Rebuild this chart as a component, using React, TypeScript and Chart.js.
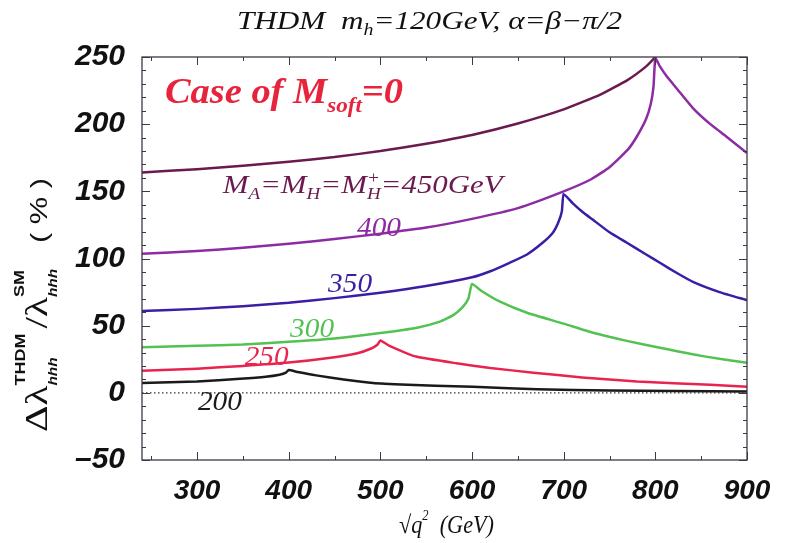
import React, { useEffect, useRef } from "react";
import { Chart, registerables } from "chart.js";

Chart.register(...registerables);

// ---- axes ----
const xRange = [240, 900];
const yRange = [-50, 250];
const xTickLabels = [300, 400, 500, 600, 700, 800, 900];
const yTickLabels = [-50, 0, 50, 100, 150, 200, 250];

// ---- series: sqrt(q^2) [GeV] vs Δλ/λ [%] ----
const mass450X = [240, 300, 350, 400, 450, 500, 550, 600, 650, 700, 740, 770, 790, 800, 810, 820];
const mass450Y = [164, 166.5, 169, 172, 175.5, 180, 185.5, 192, 200.5, 211, 222, 233, 243, 250, 258, 268];

const mass400X = [240, 300, 350, 400, 450, 500, 550, 600, 650, 700, 730, 750, 770, 780, 790, 795, 798, 800, 805, 812, 824, 841, 860, 878, 900];
const mass400Y = [103.5, 105.5, 108, 111, 114.5, 118.5, 123, 129.5, 137.5, 150, 159, 168, 181, 191, 204, 215, 228, 249, 243, 236, 226, 212, 200, 190.5, 178.5];

const mass350X = [240, 300, 350, 400, 450, 500, 550, 600, 620, 641, 660, 677, 688, 694, 698, 700, 710, 720, 732, 750, 769, 790, 805, 824, 841, 870, 900];
const mass350Y = [61, 62.5, 64.5, 67, 70.5, 74.5, 79.5, 86, 90.5, 96.8, 103, 111.7, 119, 126.6, 135, 148, 141, 135, 128.8, 119.5, 111.7, 103, 96.8, 89, 82.6, 75, 69];

const mass300X = [240, 300, 350, 400, 450, 500, 540, 565, 580, 590, 596, 600, 610, 630, 660, 700, 732, 770, 805, 850, 900];
const mass300Y = [34, 35, 36, 38, 40.5, 44.5, 48.5, 53, 58, 64, 70, 81, 76, 68, 59.6, 51.5, 44.7, 38.5, 33.5, 27.5, 22.3];

const mass250X = [240, 300, 350, 400, 450, 475, 490, 497, 500, 510, 539, 583, 620, 667, 720, 780, 860, 900];
const mass250Y = [16.5, 18, 20, 22.5, 26.5, 29.5, 33, 36, 39, 35, 27, 22, 18.5, 15, 11.5, 8.5, 6, 4.5];

const mass200X = [240, 300, 347, 375, 390, 397, 400, 410, 430, 460, 492, 530, 560, 601, 640, 671, 750, 820, 900];
const mass200Y = [7.4, 8.5, 10.5, 12, 13.5, 15, 17, 15.5, 13, 10, 7.4, 6, 5.2, 4.5, 3.4, 2.6, 1.8, 1.3, 1];

const zeroX = [240, 900];
const zeroY = [0, 0];

// ---- label anchors (data coordinates, left/baseline) ----
const labelCase = { x: 265, y: 216 };
const labelMass = { x: 328, y: 149 };
const label400 = { x: 474.5, y: 117 };
const label350 = { x: 443, y: 75 };
const label300 = { x: 401.5, y: 41.7 };
const label250 = { x: 352, y: 20.8 };
const label200 = { x: 301, y: -12.7 };

const C450 = "#6a1a4c";
const C400 = "#8c2ba3";
const C350 = "#3b1ea5";
const C300 = "#52c252";
const C250 = "#e8244e";
const C200 = "#1a1a1a";
const CCASE = "#e8233c";

type Seg = { t: string; font: string; dy?: number; stack?: boolean; gap?: number };

const SERIF = "'Liberation Serif', 'Times New Roman', serif";
const SANS = "'Liberation Sans', Arial, sans-serif";

function layoutRich(ctx: CanvasRenderingContext2D, segs: Seg[]) {
  let cur = 0;
  let prevStart = 0;
  const out: { s: Seg; start: number }[] = [];
  for (const s of segs) {
    ctx.font = s.font;
    const w = ctx.measureText(s.t).width;
    const start = s.stack ? prevStart : cur + (s.gap || 0);
    const end = start + w;
    cur = s.stack ? Math.max(cur, end) : end;
    prevStart = start;
    out.push({ s, start });
  }
  return { width: cur, out };
}

function drawRich(
  ctx: CanvasRenderingContext2D,
  segs: Seg[],
  x: number,
  y: number,
  color: string,
  targetW?: number
) {
  const { width, out } = layoutRich(ctx, segs);
  const sx = targetW ? targetW / width : 1;
  ctx.save();
  ctx.translate(x, y);
  ctx.scale(sx, 1);
  ctx.fillStyle = color;
  ctx.textAlign = "left";
  ctx.textBaseline = "alphabetic";
  for (const o of out) {
    ctx.font = o.s.font;
    ctx.fillText(o.s.t, o.start, o.s.dy || 0);
  }
  ctx.restore();
}

const framePlugin = {
  id: "frameAndText",
  afterDatasetsDraw(chart: any) {
    const { ctx, chartArea: a, scales } = chart;
    const xs = scales.x;
    const ys = scales.y;
    ctx.save();
    ctx.strokeStyle = "#3f3646";
    ctx.lineWidth = 1.3;
    ctx.strokeRect(a.left, a.top, a.right - a.left, a.bottom - a.top);
    ctx.lineWidth = 1;
    ctx.beginPath();
    for (let v = 250; v <= xRange[1]; v += 50) {
      const px = Math.round(xs.getPixelForValue(v)) + 0.5;
      const len = v % 100 === 0 ? 8 : 4;
      ctx.moveTo(px, a.bottom);
      ctx.lineTo(px, a.bottom - len);
      ctx.moveTo(px, a.top);
      ctx.lineTo(px, a.top + len);
    }
    for (let v = yRange[0]; v <= yRange[1]; v += 10) {
      const py = Math.round(ys.getPixelForValue(v)) + 0.5;
      const len = v % 50 === 0 ? 8 : 4;
      ctx.moveTo(a.left, py);
      ctx.lineTo(a.left + len, py);
      ctx.moveTo(a.right, py);
      ctx.lineTo(a.right - len, py);
    }
    ctx.stroke();
    ctx.restore();
  },
  afterDraw(chart: any) {
    const { ctx, scales } = chart;
    const xs = scales.x;
    const ys = scales.y;
    const P = (p: { x: number; y: number }) => [xs.getPixelForValue(p.x), ys.getPixelForValue(p.y)];

    // title
    drawRich(
      ctx,
      [
        { t: "THDM  m", font: `italic 25px ${SERIF}` },
        { t: "h", font: `italic 16px ${SERIF}`, dy: 6 },
        { t: "=120GeV, α=β−π/2", font: `italic 25px ${SERIF}` },
      ],
      237,
      29,
      "#111",
      385
    );

    // Case of M_soft = 0
    let [cx, cy] = P(labelCase);
    drawRich(
      ctx,
      [
        { t: "Case of M", font: `bold italic 35px ${SERIF}` },
        { t: "soft", font: `bold italic 21px ${SERIF}`, dy: 9 },
        { t: "=0", font: `bold italic 35px ${SERIF}` },
      ],
      cx,
      cy,
      CCASE,
      238
    );

    // M_A = M_H = M_H+ = 450GeV
    [cx, cy] = P(labelMass);
    drawRich(
      ctx,
      [
        { t: "M", font: `italic 26px ${SERIF}` },
        { t: "A", font: `italic 16px ${SERIF}`, dy: 6 },
        { t: "=M", font: `italic 26px ${SERIF}` },
        { t: "H", font: `italic 16px ${SERIF}`, dy: 6 },
        { t: "=M", font: `italic 26px ${SERIF}` },
        { t: "H", font: `italic 16px ${SERIF}`, dy: 6 },
        { t: "+", font: `italic 16px ${SERIF}`, dy: -10, stack: true },
        { t: "=450GeV", font: `italic 26px ${SERIF}` },
      ],
      cx,
      cy,
      C450,
      280
    );

    const num = (t: string, p: { x: number; y: number }, c: string) => {
      const [lx, ly] = P(p);
      drawRich(ctx, [{ t, font: `italic 28px ${SERIF}` }], lx, ly, c, 44);
    };
    num("400", label400, C400);
    num("350", label350, C350);
    num("300", label300, C300);
    num("250", label250, C250);
    num("200", label200, C200);

    // x title
    drawRich(
      ctx,
      [
        { t: "√q", font: `italic 25px ${SERIF}` },
        { t: "2", font: `italic 14px ${SERIF}`, dy: -13 },
        { t: "  (GeV)", font: `italic 25px ${SERIF}` },
      ],
      399,
      533,
      "#111",
      95
    );

    // y title (rotated)
    ctx.save();
    ctx.translate(47, 432);
    ctx.rotate(-Math.PI / 2);
    drawRich(
      ctx,
      [
        { t: "Δλ", font: `32px ${SERIF}` },
        { t: "hhh", font: `bold italic 12px ${SANS}`, dy: 10 },
        { t: "THDM", font: `bold 14px ${SANS}`, dy: -22, stack: true },
        { t: "/λ", font: `32px ${SERIF}`, gap: 4 },
        { t: "hhh", font: `bold italic 12px ${SANS}`, dy: 10 },
        { t: "SM", font: `bold 14px ${SANS}`, dy: -23, stack: true },
        { t: "( % )", font: `24px ${SANS}`, gap: 20 },
      ],
      0,
      0,
      "#111",
      254
    );
    ctx.restore();
  },
};

const pts = (xs: number[], ys: number[]) => xs.map((x, i) => ({ x, y: ys[i] }));

const line = (xs: number[], ys: number[], color: string) => ({
  data: pts(xs, ys),
  borderColor: color,
  borderWidth: 2.5,
  pointRadius: 0,
  tension: 0.15,
  borderJoinStyle: "round" as const,
  fill: false,
});

const tickFmt = (v: any) => (Number(v) < 0 ? "–" + Math.abs(Number(v)) : String(v));

export default function App() {
  const ref = useRef<HTMLCanvasElement | null>(null);
  useEffect(() => {
    if (!ref.current) return;
    const chart = new Chart(ref.current, {
      type: "line",
      data: {
        datasets: [
          {
            data: pts(zeroX, zeroY),
            borderColor: "#333",
            borderWidth: 1.2,
            borderDash: [1.5, 2.5],
            pointRadius: 0,
            fill: false,
          },
          line(mass200X, mass200Y, C200),
          line(mass250X, mass250Y, C250),
          line(mass300X, mass300Y, C300),
          line(mass350X, mass350Y, C350),
          line(mass400X, mass400Y, C400),
          line(mass450X, mass450Y, C450),
        ] as any,
      },
      options: {
        animation: false,
        responsive: false,
        events: [],
        layout: { padding: { top: 57, right: 39, left: 0, bottom: 0 } },
        plugins: { legend: { display: false }, tooltip: { enabled: false } },
        scales: {
          x: {
            type: "linear",
            min: xRange[0],
            max: xRange[1],
            grid: { display: false, drawTicks: false },
            border: { display: false },
            afterBuildTicks: (s: any) => {
              s.ticks = xTickLabels.map((v) => ({ value: v }));
            },
            afterFit: (s: any) => {
              s.height = 83;
            },
            ticks: {
              autoSkip: false,
              maxRotation: 0,
              padding: 14,
              color: "#111",
              callback: tickFmt,
              font: { family: "'Liberation Sans', Arial, sans-serif", size: 28, style: "italic", weight: "bold" },
            },
          },
          y: {
            type: "linear",
            min: yRange[0],
            max: yRange[1],
            grid: { display: false, drawTicks: false },
            border: { display: false },
            afterBuildTicks: (s: any) => {
              s.ticks = yTickLabels.map((v) => ({ value: v }));
            },
            afterFit: (s: any) => {
              s.width = 142;
            },
            ticks: {
              autoSkip: false,
              padding: 17,
              color: "#111",
              callback: tickFmt,
              font: { family: "'Liberation Sans', Arial, sans-serif", size: 30, style: "italic", weight: "bold" },
            },
          },
        },
      } as any,
      plugins: [framePlugin],
    });
    return () => chart.destroy();
  }, []);
  return (
    <div style={{ position: "fixed", left: 0, top: 0, width: 786, height: 543, background: "#fff" }}>
      <canvas ref={ref} width={786} height={543} style={{ display: "block" }} />
    </div>
  );
}
